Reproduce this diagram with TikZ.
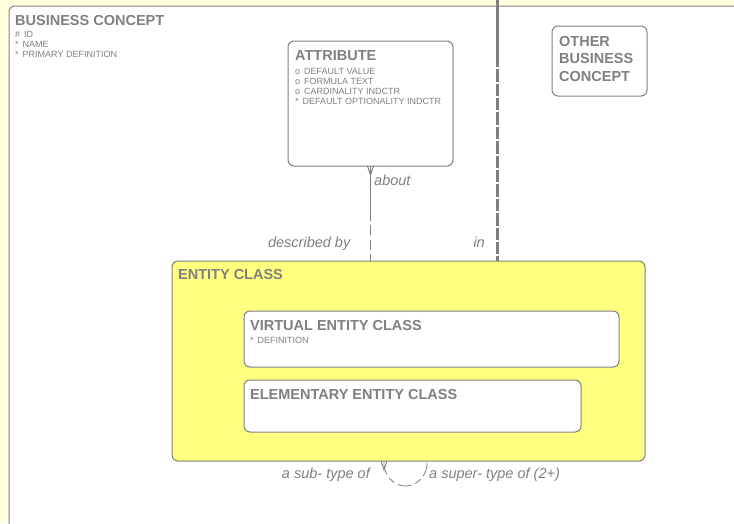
\documentclass[tikz,border=0pt]{standalone}
\usepackage{fontspec}
\setmainfont{Liberation Sans}
\usetikzlibrary{calc}

\definecolor{paleyellow}{RGB}{255,255,224}
\definecolor{classyellow}{RGB}{255,255,128}
\definecolor{erdgray}{RGB}{128,128,128}

\begin{document}
\begin{tikzpicture}[x=1pt,y=-1pt,
    entity/.style={draw=erdgray,line width=1pt,rounded corners=6pt,
      fill=white,anchor=north west,inner sep=0pt,outer sep=0pt},
    entname/.style={anchor=north west,inner sep=0pt,text=erdgray,
      align=left,font=\fontsize{14.5}{17.5}\selectfont\bfseries},
    entattr/.style={anchor=north west,inner sep=0pt,text=erdgray,
      align=left,font=\fontsize{9}{10}\selectfont},
    rolename/.style={inner sep=0pt,text=erdgray,
      font=\fontsize{14.5}{17}\selectfont\itshape},
    relline/.style={draw=erdgray,line width=1pt},
    optional/.style={relline,dash pattern=on 10pt off 4.5pt}]
  \useasboundingbox (0,0) rectangle (734,523);
  \fill[paleyellow] (0,0) rectangle (734,523);
  \clip (0,0) rectangle (734,523);

  \node[entity,minimum width=780pt,minimum height=560pt] (concept) at (9,6) {};
  \node[entname] (concepttitle) at ($(concept.north west)+(6,9)$) {BUSINESS CONCEPT};
  \node[entattr] (conceptattr) at ($(concept.north west)+(6,25.5)$)
    {\#\hspace{4pt}ID\\*\hspace{4pt}NAME\\*\hspace{4pt}PRIMARY DEFINITION};

  \node[entity,minimum width=165pt,minimum height=125pt] (attr) at (288,41) {};
  \node[entname] (attrtitle) at ($(attr.north west)+(7,9.5)$) {ATTRIBUTE};
  \node[entattr] (attrattr) at ($(attr.north west)+(7,27)$)
    {o\hspace{4pt}DEFAULT VALUE\\o\hspace{4pt}FORMULA TEXT\\o\hspace{4pt}CARDINALITY INDCTR\\*\hspace{4pt}DEFAULT OPTIONALITY INDCTR};

  \node[entity,minimum width=95pt,minimum height=70pt] (other) at (552,26) {};
  \node[entname] (othertitle) at ($(other.north west)+(7,10)$) {OTHER\\BUSINESS\\CONCEPT};

  \node[entity,fill=classyellow,minimum width=473pt,minimum height=200pt] (ec) at (172,261) {};
  \node[entname] (ectitle) at ($(ec.north west)+(6,8.5)$) {ENTITY CLASS};

  \node[entity,minimum width=375pt,minimum height=56pt] (vec) at (244,311) {};
  \node[entname] (vectitle) at ($(vec.north west)+(6,9)$) {VIRTUAL ENTITY CLASS};
  \node[entattr] (vecattr) at ($(vec.north west)+(6,26)$) {*\hspace{4pt}DEFINITION};

  \node[entity,minimum width=337pt,minimum height=52pt] (eec) at (244,380) {};
  \node[entname] (eectitle) at ($(eec.north west)+(6,9)$) {ELEMENTARY ENTITY CLASS};

  \coordinate (above) at (497,0);
  \coordinate (inmid) at ($(above)!0.21!(above |- ec.north)$);
  \draw[relline,line width=3pt] (above) -- (inmid);
  \draw[relline,line width=3pt,dash pattern=on 12.4pt off 2pt] (inmid) -- (above |- ec.north);
  \node[rolename,anchor=base east] (in) at ($(above |- ec.north)+(-12,-13.5)$) {in};

  \coordinate (aboutmid) at ($(attr.south)!0.47!(attr.south |- ec.north)$);
  \draw[relline] (attr.south) -- (aboutmid);
  \draw[optional] (aboutmid) -- (attr.south |- ec.north);
  \draw[relline] ($(attr.south)+(-3,0)$) -- ($(attr.south)+(0,9)$) -- ($(attr.south)+(3,0)$);
  \node[rolename,anchor=base west] (about) at ($(attr.south)+(3.5,19.5)$) {about};
  \node[rolename,anchor=base east] (describedby) at ($(attr.south |- ec.north)+(-20,-13.5)$) {described by};

  \coordinate (subend) at ($(ec.south)+(-24.5,0)$);
  \coordinate (superend) at ($(ec.south)+(18.5,0)$);
  \coordinate (loopbot) at ($(ec.south)+(-3,25)$);
  \draw[relline,line width=0.8pt,dash pattern=on 14pt off 4pt on 7pt off 4pt]
    (subend) to[out=-95,in=180] (loopbot) to[out=0,in=-85] (superend);
  \draw[relline,line width=0.8pt] ($(subend)+(-3,0)$) -- ($(subend)+(0,9)$) -- ($(subend)+(3,0)$);
  \node[rolename,anchor=base east] (subtype) at ($(subend)+(-14,17)$) {a sub- type of};
  \node[rolename,anchor=base west] (supertype) at ($(superend)+(2,17)$) {a super- type of (2+)};
\end{tikzpicture}
\end{document}
